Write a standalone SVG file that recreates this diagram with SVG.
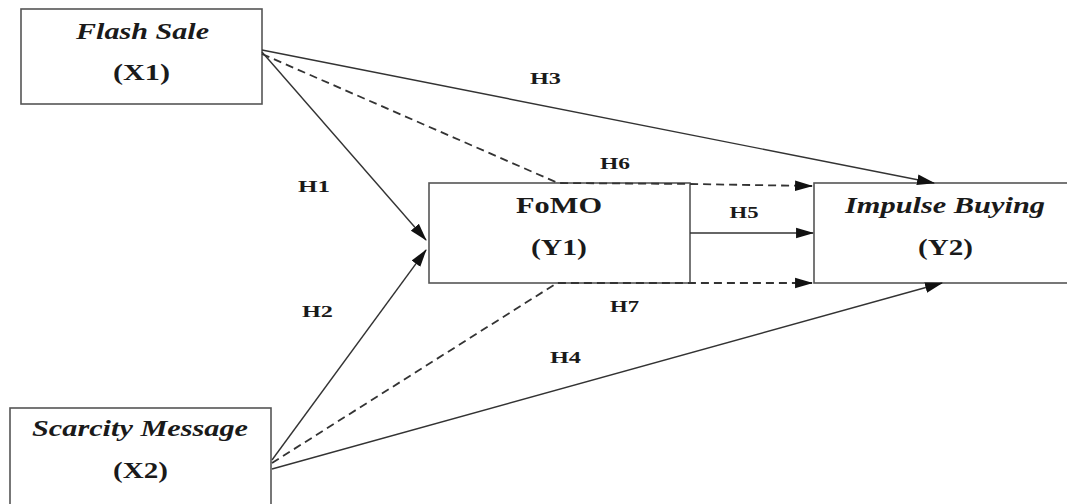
<svg xmlns="http://www.w3.org/2000/svg" width="1067" height="504" viewBox="0 0 1067 504">
<style>
.box{fill:#fff;stroke:#555;stroke-width:1.6}
.ln{stroke:#333;stroke-width:1.4;fill:none}
.ds{stroke:#333;stroke-width:1.8;fill:none;stroke-dasharray:8 5}
.t{font-family:"Liberation Serif","Times New Roman",serif;font-weight:bold;fill:#1a1a1a;text-anchor:middle}
.it{font-style:italic}
.big{font-size:24px}
.h{font-size:17px}
</style>
<defs>
<marker id="ah" markerUnits="userSpaceOnUse" markerWidth="18" markerHeight="12" refX="16" refY="5" orient="auto" viewBox="0 0 17 10">
<path d="M0,0 L17,5 L0,10 Z" fill="#111"/>
</marker>
</defs>
<rect width="1067" height="504" fill="#fff"/>
<g id="x1">
<rect class="box" x="21" y="9" width="241" height="95"/>
<text class="t it big" x="142.5" y="39" textLength="133" lengthAdjust="spacingAndGlyphs">Flash Sale</text>
<text class="t big" x="141.5" y="80" textLength="57" lengthAdjust="spacingAndGlyphs">(X1)</text>
</g>
<g id="x2">
<rect class="box" x="10" y="408" width="261" height="110"/>
<text class="t it big" x="140" y="436" textLength="216" lengthAdjust="spacingAndGlyphs">Scarcity Message</text>
<text class="t big" x="140.5" y="478" textLength="55" lengthAdjust="spacingAndGlyphs">(X2)</text>
</g>
<g id="y1">
<rect class="box" x="429" y="183" width="261" height="100"/>
<text class="t big" x="559" y="213" textLength="86" lengthAdjust="spacingAndGlyphs">FoMO</text>
<text class="t big" x="559" y="255" textLength="56" lengthAdjust="spacingAndGlyphs">(Y1)</text>
</g>
<g id="y2">
<rect class="box" x="814" y="183" width="270" height="100"/>
<text class="t it big" x="945" y="213" textLength="200" lengthAdjust="spacingAndGlyphs">Impulse Buying</text>
<text class="t big" x="945.5" y="255" textLength="55" lengthAdjust="spacingAndGlyphs">(Y2)</text>
</g>
<g id="connectors">
<line class="ln" x1="262" y1="50" x2="934" y2="183" marker-end="url(#ah)"/>
<line class="ln" x1="262" y1="52" x2="426" y2="240" marker-end="url(#ah)"/>
<polyline class="ds" points="262,54 558,183 690,184 812,186" marker-end="url(#ah)"/>
<line class="ln" x1="690" y1="233" x2="813" y2="233" marker-end="url(#ah)"/>
<polyline class="ds" points="272,463 557,283 690,283 812,283" marker-end="url(#ah)"/>
<line class="ln" x1="272" y1="460" x2="426" y2="250" marker-end="url(#ah)"/>
<line class="ln" x1="272" y1="469" x2="942" y2="283" marker-end="url(#ah)"/>
</g>
<g id="labels">
<text class="t h" x="314" y="192" textLength="32" lengthAdjust="spacingAndGlyphs">H1</text>
<text class="t h" x="317.5" y="317" textLength="31" lengthAdjust="spacingAndGlyphs">H2</text>
<text class="t h" x="545.5" y="84" textLength="31" lengthAdjust="spacingAndGlyphs">H3</text>
<text class="t h" x="565.5" y="363" textLength="31" lengthAdjust="spacingAndGlyphs">H4</text>
<text class="t h" x="744" y="218" textLength="29" lengthAdjust="spacingAndGlyphs">H5</text>
<text class="t h" x="615" y="169" textLength="30" lengthAdjust="spacingAndGlyphs">H6</text>
<text class="t h" x="624.5" y="312" textLength="29" lengthAdjust="spacingAndGlyphs">H7</text>
</g>
</svg>
